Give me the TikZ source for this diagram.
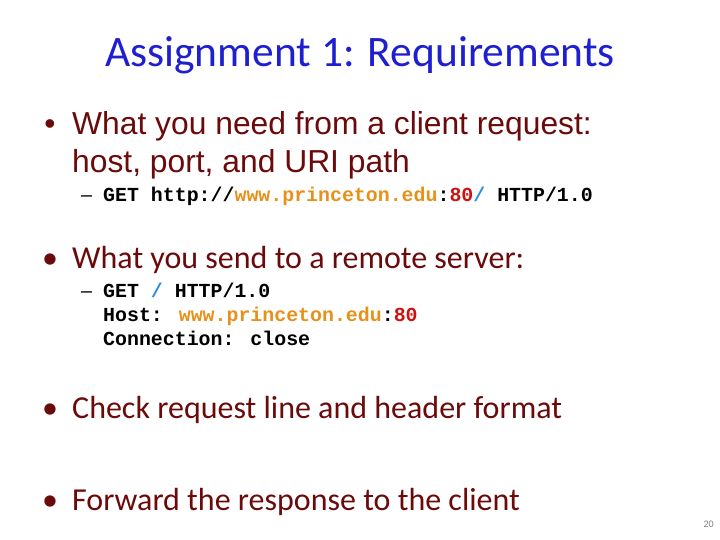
\documentclass[tikz,border=0pt]{standalone}
\usepackage{fontspec}
\setmainfont{Carlito}
\newfontfamily\arial{Liberation Sans}
\newfontfamily\cour{Liberation Mono}
\definecolor{ttl}{HTML}{1F1FCF}
\definecolor{dred}{HTML}{6B0A0A}
\definecolor{org}{HTML}{E8901A}
\definecolor{rd}{HTML}{D01010}
\definecolor{bl}{HTML}{2E8BD6}
\begin{document}
\begin{tikzpicture}[x=1pt,y=-1pt,
  txt/.style={anchor=base west,inner sep=0pt,text=dred},
  bul/.style={anchor=base,inner sep=0pt,text=dred},
  mono/.style={anchor=base west,inner sep=0pt,font=\cour\bfseries\fontsize{19.9}{24}\selectfont}]
\useasboundingbox (0,0) rectangle (720,540);
\node[anchor=base,inner sep=0pt,text=ttl,font=\fontsize{43.5}{46}\selectfont] (title) at (360,67) {Assignment 1: Requirements};
\node[bul,font=\arial\fontsize{31.8}{34}\selectfont] (b1) at (50,135) {•};
\node[txt,font=\arial\fontsize{31.8}{34}\selectfont] (t1a) at (72,135) {What you need from a client request:};
\node[txt,font=\arial\fontsize{31.8}{34}\selectfont] (t1b) at (72,173) {host, port, and URI path};
\node[anchor=base west,inner sep=0pt,font=\arial\fontsize{20}{24}\selectfont] (d1) at (81,202) {–};
\node[mono] (s1) at (103,202) {GET http://\textcolor{org}{www.princeton.edu}:\textcolor{rd}{80}\textcolor{bl}{/} HTTP/1.0};
\node[bul,font=\fontsize{32}{34}\selectfont] (b2) at (50,268) {•};
\node[txt,font=\fontsize{32}{34}\selectfont] (t2) at (72,268) {What you send to a remote server:};
\node[anchor=base west,inner sep=0pt,font=\arial\fontsize{20}{24}\selectfont] (d2) at (81,297) {–};
\node[mono] (s2a) at (103,297) {GET \textcolor{bl}{/} HTTP/1.0};
\node[mono] (s2b) at (103,321) {Host: \textcolor{org}{www.princeton.edu}:\textcolor{rd}{80}};
\node[mono] (s2c) at (103,345) {Connection: close};
\node[bul,font=\fontsize{32}{34}\selectfont] (b3) at (50,418) {•};
\node[txt,font=\fontsize{32}{34}\selectfont] (t3) at (72,418) {Check request line and header format};
\node[bul,font=\fontsize{32}{34}\selectfont] (b4) at (50,510) {•};
\node[txt,font=\fontsize{32}{34}\selectfont] (t4) at (72,510) {Forward the response to the client};
\node[anchor=base east,inner sep=0pt,text=gray,font=\fontsize{10}{12}\selectfont] (pg) at (714,527) {20};
\end{tikzpicture}
\end{document}
